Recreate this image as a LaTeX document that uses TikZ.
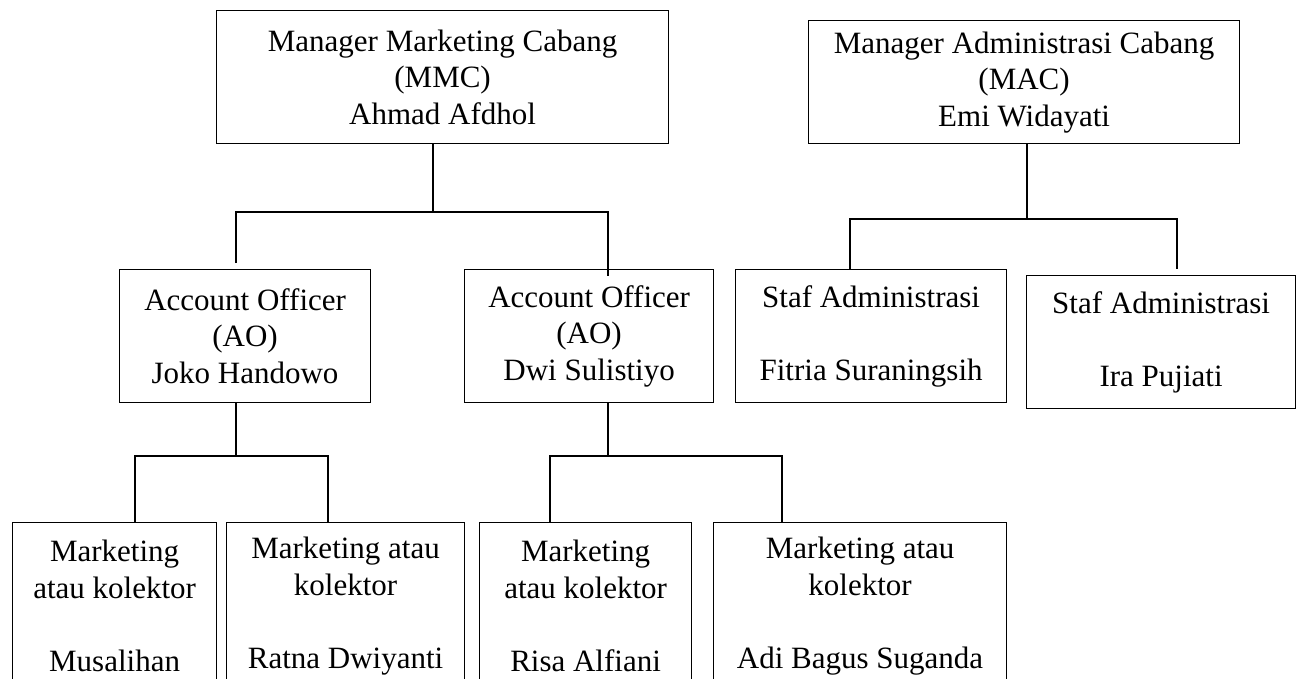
\documentclass[tikz,border=0pt]{standalone}
\usepackage{fontspec}
\setmainfont{Liberation Serif}
\tikzset{kotak/.style={draw, line width=1.2pt, align=center, inner sep=0pt, anchor=north west,
  font=\fontsize{31}{36.5}\selectfont}}
\begin{document}
\begin{tikzpicture}[x=1pt,y=-1pt,line width=1.2pt] % ukuran dalam piksel
\useasboundingbox (0,0) rectangle (1300,679);
\clip (0,0) rectangle (1300,679);

\node[kotak,minimum width=452pt,minimum height=133pt] (mmc) at (216,10) {Manager Marketing Cabang\\(MMC)\\Ahmad Afdhol};
\node[kotak,minimum width=431pt,minimum height=123pt] (mac) at (808,20) {Manager Administrasi Cabang\\(MAC)\\Emi Widayati};

\node[kotak,minimum width=251pt,minimum height=133pt] (ao1) at (119,269) {Account Officer\\(AO)\\Joko Handowo};
\node[kotak,minimum width=249pt,minimum height=133pt] (ao2) at (464,269) {Account Officer\\(AO)\\Dwi Sulistiyo};
\node[kotak,minimum width=271pt,minimum height=133pt] (staf1) at (735,269) {Staf Administrasi\\[36.5pt]Fitria Suraningsih};
\node[kotak,minimum width=269pt,minimum height=133pt] (staf2) at (1026,275) {Staf Administrasi\\[36.5pt]Ira Pujiati};

\node[kotak,minimum width=204pt,minimum height=167pt] (m1) at (12,522) {Marketing\\atau kolektor\\[36.5pt]Musalihan};
\node[kotak,minimum width=238pt,minimum height=167pt] (m2) at (226,522) {Marketing atau\\kolektor\\[36.5pt]Ratna Dwiyanti};
\node[kotak,minimum width=212pt,minimum height=167pt] (m3) at (479,522) {Marketing\\atau kolektor\\[36.5pt]Risa Alfiani};
\node[kotak,minimum width=293pt,minimum height=167pt] (m4) at (713,522) {Marketing atau\\kolektor\\[36.5pt]Adi Bagus Suganda};

\coordinate (busA) at (433,212);
\coordinate (ao1Atas) at (236,263);
\coordinate (ao2Atas) at (608,276);
\draw (mmc.south -| busA) -- (busA);
\draw (ao1Atas) |- (busA) -| (ao2Atas);

\coordinate (busB) at (1027,219);
\coordinate (staf1Atas) at (850,269);
\coordinate (staf2Atas) at (1177,269);
\draw (mac.south -| busB) -- (busB);
\draw (staf1Atas) |- (busB) -| (staf2Atas);

\coordinate (busC) at (236,456);
\coordinate (m1Atas) at (135,522);
\coordinate (m2Atas) at (328,522);
\draw (ao1.south -| busC) -- (busC);
\draw (m1Atas) |- (busC) -| (m2Atas);

\coordinate (busD) at (608,456);
\coordinate (m3Atas) at (550,522);
\coordinate (m4Atas) at (782,522);
\draw (ao2.south -| busD) -- (busD);
\draw (m3Atas) |- (busD) -| (m4Atas);
\end{tikzpicture}
\end{document}
